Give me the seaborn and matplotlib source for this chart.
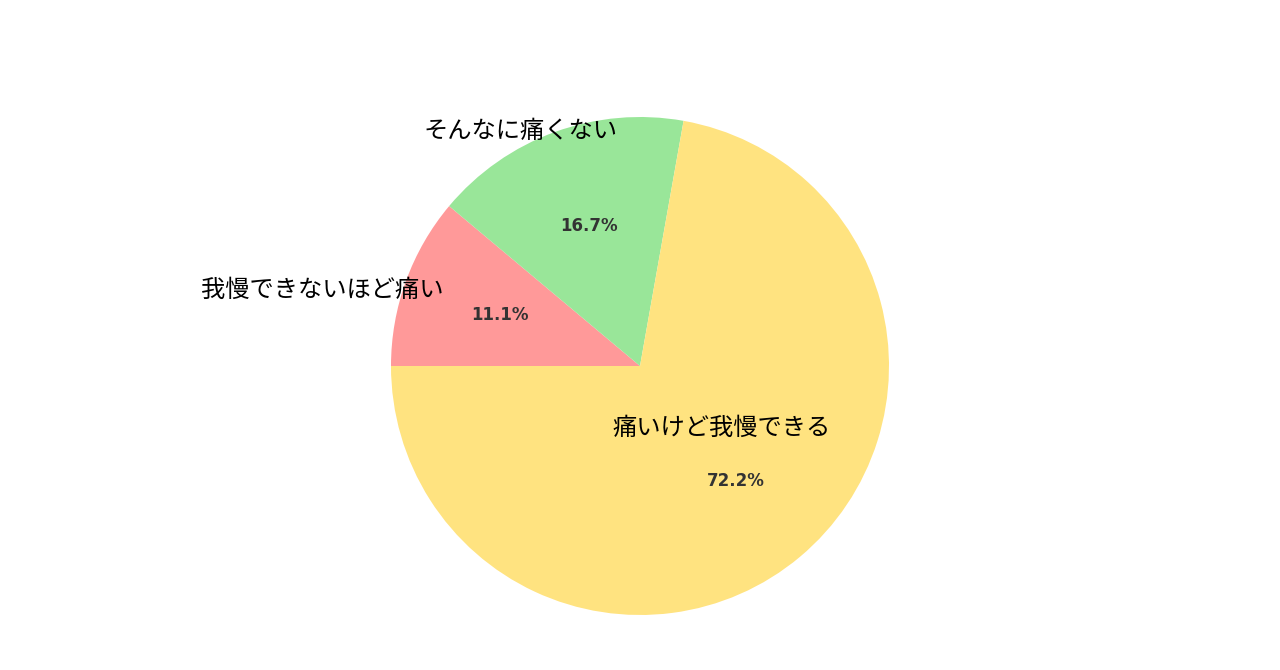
import matplotlib
matplotlib.use('Agg')
import matplotlib.pyplot as plt
import seaborn as sns

labels = ['我慢できないほど痛い', 'そんなに痛くない', '痛いけど我慢できる']
values = [11.1, 16.7, 72.2]
colors = ['#ff9999', '#99e699', '#ffe380']
# label centres, in units of the pie radius
label_pos = [(-1.277, 0.307), (-0.478, 0.945), (0.329, -0.249)]

sns.set_theme(style="white")
plt.rcParams['font.family'] = ['Noto Sans CJK JP', 'DejaVu Sans']

fig = plt.figure(figsize=(12.8, 6.7), dpi=100)
ax = fig.add_axes([0, 0, 1, 1])

wedges, texts, autotexts = ax.pie(
    values,
    labels=labels,
    colors=colors,
    autopct='%1.1f%%',
    startangle=180,
    counterclock=False,
    pctdistance=0.6,
    wedgeprops={'linewidth': 0},
    textprops={'fontsize': 17.5, 'color': 'black'},
)

for t, pos in zip(texts, label_pos):
    t.set_position(pos)
    t.set_ha('center')
    t.set_va('center')

for t in autotexts:
    t.set_fontsize(12)
    t.set_fontweight('bold')
    t.set_color('#333333')
    t.set_fontfamily('DejaVu Sans')

r = 249
ax.set_xlim(-640 / r, 640 / r)
ax.set_ylim(-304 / r, 366 / r)
ax.axis('off')

fig.savefig('out.png', dpi=100)
